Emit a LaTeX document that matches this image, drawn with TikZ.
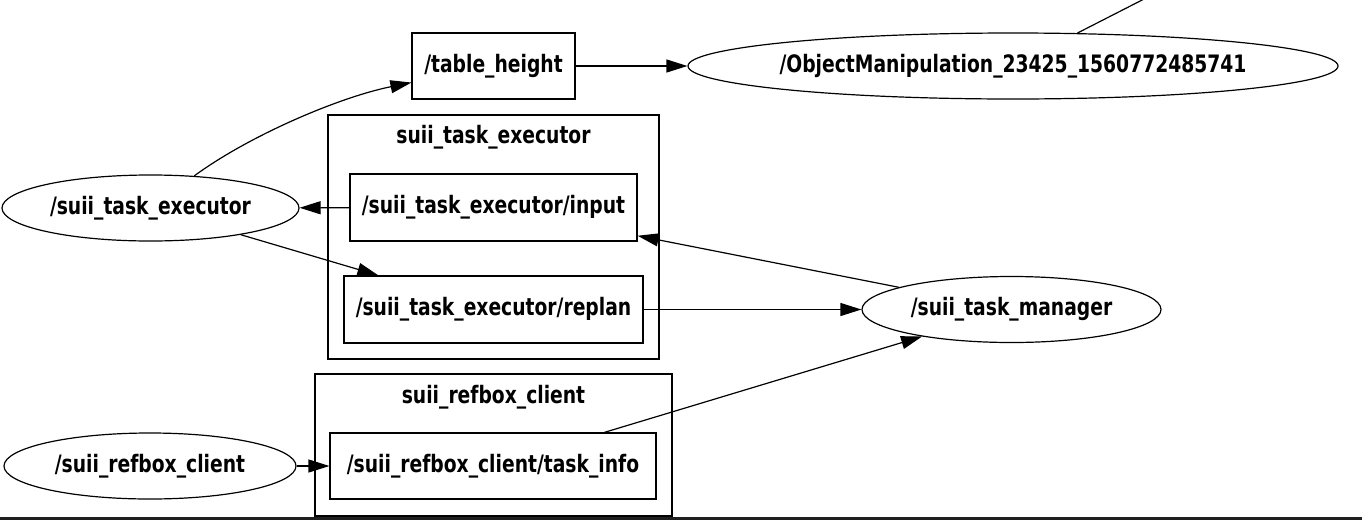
\documentclass[tikz,border=0pt]{standalone}
\usepackage{fontspec}
\setmainfont{DejaVu Sans}
\newfontfamily\lblfont{DejaVu Sans}[FakeStretch=0.78]
\usetikzlibrary{arrows.meta,shapes.geometric}
\begin{document}
\begin{tikzpicture}[x=1pt,y=-1pt,line width=1.2pt,
  lbl/.style={font=\lblfont\bfseries\fontsize{24}{28}\selectfont},
  topic/.style={draw,rectangle,inner sep=0pt,lbl},
  nodeell/.style={draw,ellipse,inner sep=0pt,lbl},
  cluster/.style={draw,rectangle,inner sep=0pt},
  edge/.style={-{Triangle[length=21pt,width=13pt]}}]
\useasboundingbox (0,0) rectangle (1362,520);
\fill[white] (0,0) rectangle (1362,520);
% clusters
\node[cluster,minimum width=331pt,minimum height=244pt] (c1) at (493.5,237) {};
\node[lbl] (c1l) at (493.5,137) {suii\_task\_executor};
\node[cluster,minimum width=357pt,minimum height=142pt] (c2) at (493.5,445) {};
\node[lbl] (c2l) at (493.5,397) {suii\_refbox\_client};
% topics
\node[topic,minimum width=163pt,minimum height=66pt] (th) at (493.5,66) {/table\_height};
\node[topic,minimum width=287pt,minimum height=67pt] (in) at (493.5,207.5) {/suii\_task\_executor/input};
\node[topic,minimum width=299pt,minimum height=67pt] (rp) at (493.5,309.5) {/suii\_task\_executor/replan};
\node[topic,minimum width=326pt,minimum height=66pt] (ti) at (493,466) {/suii\_refbox\_client/task\_info};
% ros nodes
\node[nodeell,minimum width=297pt,minimum height=66pt] (ste) at (150.5,208) {/suii\_task\_executor};
\node[nodeell,minimum width=292pt,minimum height=66pt] (rc) at (150,466) {/suii\_refbox\_client};
\node[nodeell,minimum width=299pt,minimum height=66pt] (tm) at (1011.5,309.5) {/suii\_task\_manager};
\node[nodeell,minimum width=650pt,minimum height=66pt,inner xsep=-4pt] (om) at (1013,66) {/ObjectManipulation\_23425\_1560772485741};
\coordinate (omout) at (1146,-2);
% edges
\draw[edge] (ste) .. controls (250,135) and (340,97) .. (th);
\draw[edge] (th) -- (om);
\draw[edge] (in) -- (ste);
\draw[edge] (ste) -- (rp);
\draw[edge] (tm) -- (in);
\draw[edge] (rp) -- (tm);
\draw[edge] (ti) -- (tm);
\draw[edge] (rc) -- (ti);
\draw (om) -- (omout);
% bottom bar
\fill[black!88] (0,517) rectangle (1362,520);
\end{tikzpicture}
\end{document}
